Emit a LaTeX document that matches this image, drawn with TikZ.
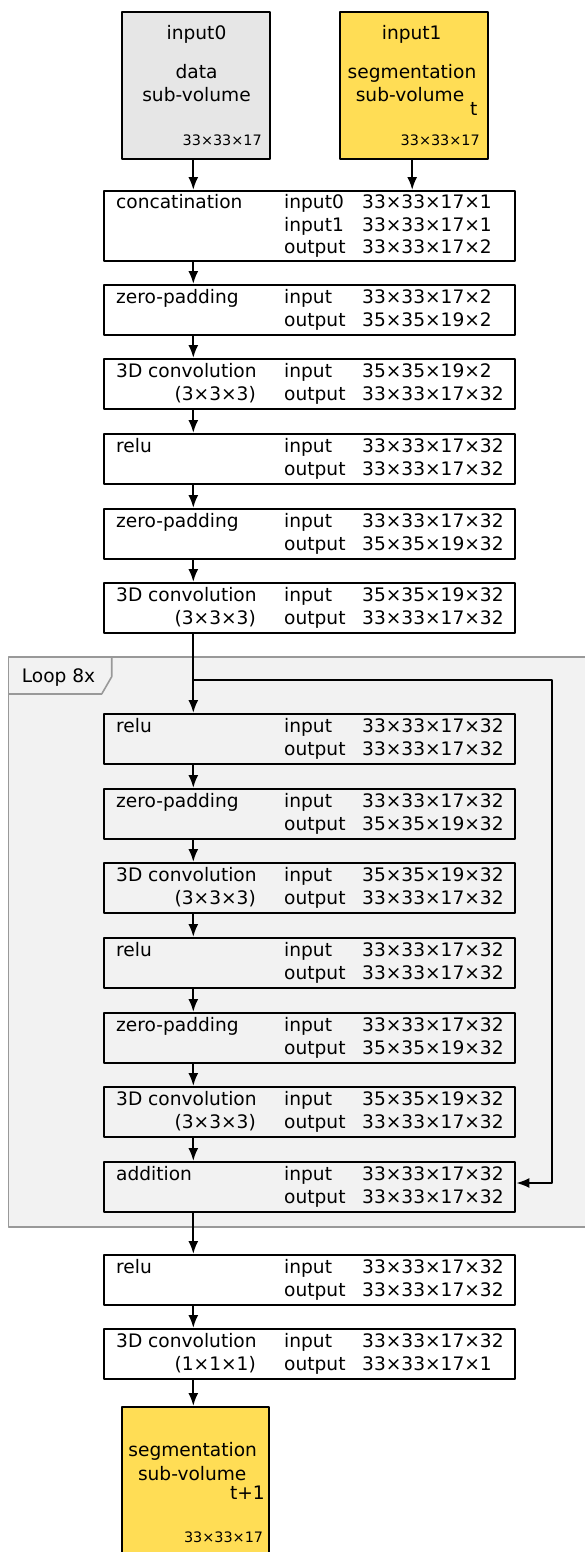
\documentclass[tikz,border=0pt]{standalone}
\usepackage{fontspec}
\setmainfont{DejaVu Sans}
\usetikzlibrary{arrows.meta}
\definecolor{datagrey}{HTML}{E6E6E6}
\definecolor{segyellow}{HTML}{FFDD55}
\definecolor{loopfill}{HTML}{F2F2F2}
\definecolor{loopline}{HTML}{999999}

\begin{document}
\begin{tikzpicture}[
		x = 1pt,
		y = -1pt,
		line join = round,
		> = {Latex[length=13pt,width=10pt]},
		font = \fontsize{18.6pt}{22pt}\selectfont,
		layer/.style = {draw, line width=2pt, anchor=north west, inner sep=0pt,
			minimum width=411pt, minimum height=50pt},
		volume/.style = {draw, line width=2pt, anchor=north west, inner sep=0pt,
			minimum width=148pt, minimum height=147pt},
		txt/.style = {anchor=base west, inner sep=0pt},
		txtr/.style = {anchor=base east, inner sep=0pt},
		txtc/.style = {anchor=base, inner sep=0pt},
		small/.style = {anchor=base east, inner sep=0pt, font=\fontsize{14.4pt}{17pt}\selectfont},
		flow/.style = {->, line width=2pt},
		]
\useasboundingbox	(0,0) rectangle (584,1552);

% loop frame
\draw[loopline, fill=loopfill, line width=1.6pt]	(8.3,656.7) rectangle (600,1227);
\draw[loopline, line width=1.6pt]	(8.3,694) -- (101.7,694) -- (111.7,676.7) -- (111.7,656.7);
\node[txt]	(looplbl) at (21.7,682.7)	{Loop 8x};

% volumes
\node[volume, fill=datagrey]	(input0) at (120.7,10.7)	{};
\node[volume, fill=segyellow]	(input1) at (339,10.7)	{};
\node[volume, fill=segyellow, minimum width=147.6pt, minimum height=160pt]	(result) at (120.7,1406)	{};

\node[txtc]	(in0a) at (196.5,40)	{input0};
\node[txtc]	(in0b) at (196.5,78.3)	{data};
\node[txtc]	(in0c) at (196.5,101.7)	{sub-volume};
\node[small]	(in0d) at (262,145.7)	{33×33×17};
\node[txtc]	(in1a) at (411.7,40)	{input1};
\node[txtc]	(in1b) at (412,78.3)	{segmentation};
\node[txtc]	(in1c) at (410,101.7)	{sub-volume};
\node[txt]	(in1t) at (470,115.7)	{t};
\node[small]	(in1d) at (480,145.7)	{33×33×17};
\node[txtc]	(resa) at (192.7,1456)	{segmentation};
\node[txtc]	(resb) at (192.2,1480)	{sub-volume};
\node[txtr]	(rest) at (265,1499)	{t+1};
\node[small]	(resd) at (263.3,1542.7)	{33×33×17};

% layers
\node[layer, minimum height=70pt]	(concat) at (103.3,190)	{};
\node[txt]	(concat-lbl) at (116,208.5)	{concatination};
\node[txt]	(concat-in0) at (284,208.5)	{input0};
\node[txt]	(concat-in1) at (284,231)	{input1};
\node[txt]	(concat-out) at (284,253.5)	{output};
\node[txt]	(concat-in0val) at (362,208.5)	{33×33×17×1};
\node[txt]	(concat-in1val) at (362,231)	{33×33×17×1};
\node[txt]	(concat-outval) at (362,253.5)	{33×33×17×2};

\foreach \name/\ty/\lbl/\sub/\inp/\outp in {
		pad1/284/zero-padding//33×33×17×2/35×35×19×2,
		conv1/358/3D convolution/(3×3×3)/35×35×19×2/33×33×17×32,
		relu1/433/relu//33×33×17×32/33×33×17×32,
		pad2/508/zero-padding//33×33×17×32/35×35×19×32,
		conv2/582/3D convolution/(3×3×3)/35×35×19×32/33×33×17×32,
		relu2/713/relu//33×33×17×32/33×33×17×32,
		pad3/788/zero-padding//33×33×17×32/35×35×19×32,
		conv3/862/3D convolution/(3×3×3)/35×35×19×32/33×33×17×32,
		relu3/937/relu//33×33×17×32/33×33×17×32,
		pad4/1012/zero-padding//33×33×17×32/35×35×19×32,
		conv4/1086/3D convolution/(3×3×3)/35×35×19×32/33×33×17×32,
		add/1161/addition//33×33×17×32/33×33×17×32,
		relu4/1254/relu//33×33×17×32/33×33×17×32,
		conv5/1328/3D convolution/(1×1×1)/33×33×17×32/33×33×17×1}
{
	\node[layer]	(\name) at (103.3,\ty)	{};
	\node[txt]	(\name-lbl) at (116,\ty+19)	{\lbl};
	\node[txtr]	(\name-sub) at (256,\ty+42)	{\sub};
	\node[txt]	(\name-in) at (284,\ty+19)	{input};
	\node[txt]	(\name-out) at (284,\ty+42)	{output};
	\node[txt]	(\name-inval) at (362,\ty+19)	{\inp};
	\node[txt]	(\name-outval) at (362,\ty+42)	{\outp};
}

% connectors
\coordinate	(spine) at (193.3,0);
\coordinate	(skip) at (551.7,680);
\draw[flow]	(input0.south -| spine) -- (concat.north -| spine);
\draw[flow]	([xshift=-1.8pt]input1.south) -- ([xshift=-1.8pt]input1.south |- concat.north);
\foreach \a/\b in {concat/pad1, pad1/conv1, conv1/relu1, relu1/pad2, pad2/conv2,
		conv2/relu2, relu2/pad3, pad3/conv3, conv3/relu3, relu3/pad4, pad4/conv4,
		conv4/add, add/relu4, relu4/conv5, conv5/result}
	\draw[flow]	(\a.south -| spine) -- (\b.north -| spine);
\draw[flow]	(spine |- skip) -- (skip) |- ([yshift=4pt]add.east);
\end{tikzpicture}
\end{document}
